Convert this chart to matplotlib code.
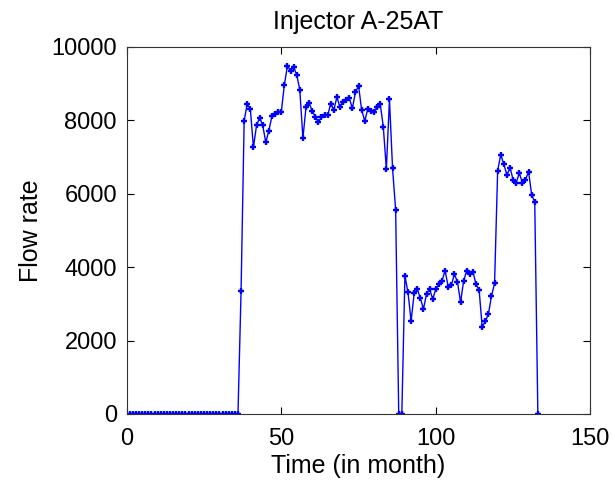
import numpy as np
import matplotlib
matplotlib.use("Agg")
from matplotlib import pyplot as plt

plt.rcParams['font.family'] = ['Liberation Sans', 'DejaVu Sans']

# monthly flow rate of the injector, months 1..133
months = list(range(1, 134))
flow_off = [0] * 36
flow_first = [3350, 7990, 8450, 8300, 7260, 7860, 8070, 7860, 7400, 7720,
              8120, 8170, 8220, 8220, 8960, 9480, 9350, 9450, 9240, 8830,
              7510, 8350, 8470, 8260, 8100, 7950, 8080, 8130, 8130, 8450,
              8280, 8630, 8360, 8510, 8560, 8600, 8330, 8760, 8940, 8280,
              7990, 8300, 8240, 8220, 8360, 8450, 7830, 6670, 8570, 6690,
              5560]
flow_shut = [0, 0]
flow_second = [3760, 3310, 2530, 3290, 3400, 3150, 2860, 3270, 3400, 3130,
               3400, 3530, 3630, 3900, 3470, 3500, 3810, 3600, 3040, 3630,
               3900, 3810, 3880, 3530, 3380, 2370, 2520, 2720, 3210, 3560]
flow_third = [6630, 7060, 6800, 6510, 6710, 6380, 6300, 6560, 6300, 6380,
              6600, 5970, 5770, 0]
flow = flow_off + flow_first + flow_shut + flow_second + flow_third

fig = plt.figure(figsize=(6.15, 4.83), dpi=100)
ax = fig.add_axes([0.206, 0.143, 0.754, 0.760])
ax.plot(months, flow, color='#0000ff', lw=1.0, marker='+', ms=4, mew=1.7)

ax.set_xlim(0, 150)
ax.set_ylim(0, 10000)
ax.set_xticks([0, 50, 100, 150])
ax.set_yticks([0, 2000, 4000, 6000, 8000, 10000])
ax.tick_params(direction='in', top=True, right=True, length=5, labelsize=17)
ax.tick_params(axis='x', pad=10)
ax.tick_params(axis='y', pad=7)
for s in ax.spines.values():
    s.set_color('#333333')
    s.set_linewidth(0.8)

ax.set_title('Injector A-25AT', fontsize=18, pad=13)
ax.set_xlabel('Time (in month)', fontsize=18, labelpad=3)
ax.set_ylabel('Flow rate', fontsize=18, labelpad=6)

plt.savefig('out.png', dpi=100)
